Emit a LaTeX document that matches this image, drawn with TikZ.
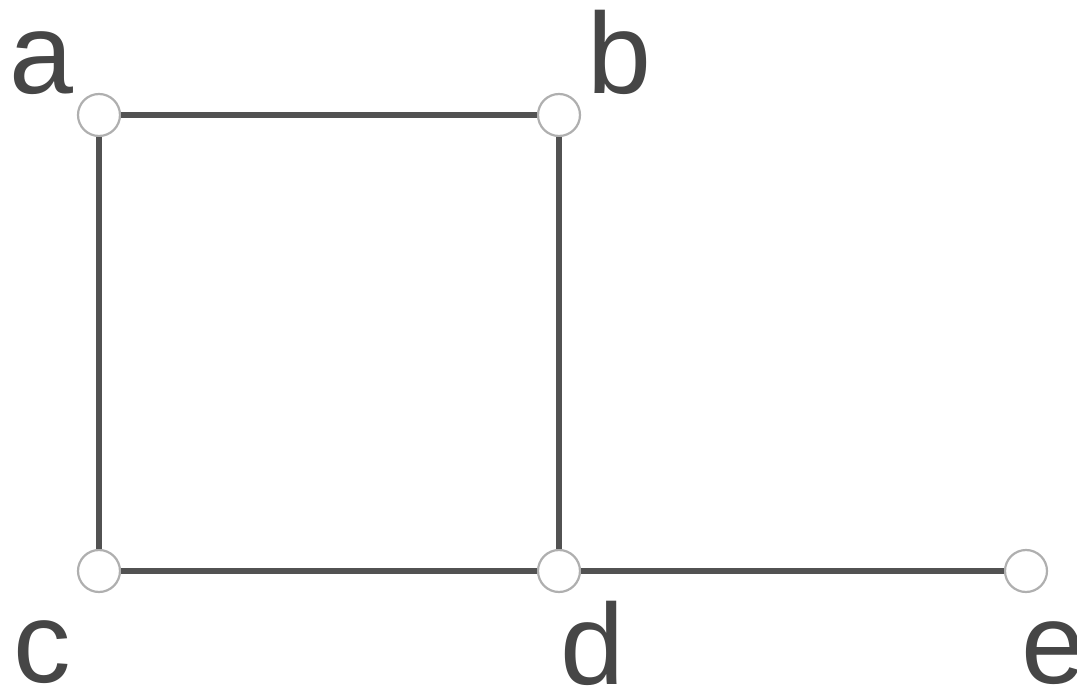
\documentclass[tikz,border=0pt]{standalone}
\usepackage{fontspec}
\setmainfont{Liberation Sans}
\definecolor{edgec}{RGB}{82,82,82}
\definecolor{vertc}{RGB}{175,175,175}
\definecolor{labc}{RGB}{70,70,70}
\begin{document}
\begin{tikzpicture}[x=1pt,y=-1pt,
  vert/.style={circle,draw=vertc,line width=2.2pt,minimum size=42pt,inner sep=0pt,fill=white},
  edge/.style={draw=edgec,line width=6.5pt},
  lab/.style={inner sep=0pt,anchor=base,text depth=0pt,text=labc,font=\fontsize{115}{115}\selectfont}]
\useasboundingbox (0,0) rectangle (1077,695);
\node[vert] (a) at (99,115) {};
\node[vert] (b) at (559,115) {};
\node[vert] (c) at (99,571) {};
\node[vert] (d) at (559,571) {};
\node[vert] (e) at (1026,571) {};
\draw[edge] (a) -- (b);
\draw[edge] (a) -- (c);
\draw[edge] (b) -- (d);
\draw[edge] (c) -- (d);
\draw[edge] (d) -- (e);
\node[lab] (la) at (41,94) {a};
\node[lab] (lb) at (619,94) {b};
\node[lab] (lc) at (42,682) {c};
\node[lab] (ld) at (592,684) {d};
\node[lab] (le) at (1053,683) {e};
\end{tikzpicture}
\end{document}
